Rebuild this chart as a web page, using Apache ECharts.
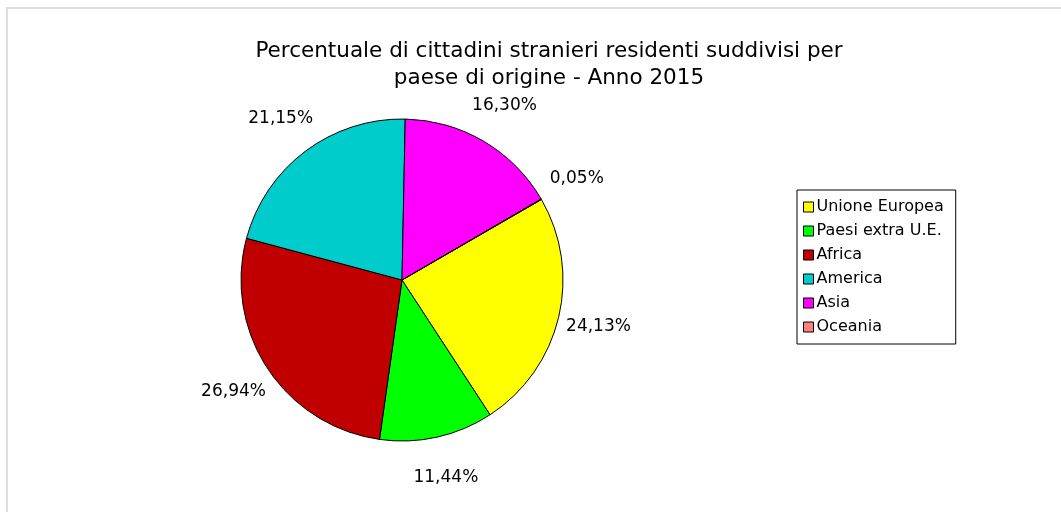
<!DOCTYPE html>
<html>
<head>
<meta charset="utf-8">
<script src="https://cdn.jsdelivr.net/npm/echarts@6/dist/echarts.min.js"></script>
<style>
  html, body { margin: 0; padding: 0; background: #fff; }
  #chart { width: 1061px; height: 512px; }
</style>
</head>
<body>
<div id="chart"></div>
<script>
const titleLines = ['Percentuale di cittadini stranieri residenti suddivisi per', 'paese di origine - Anno 2015'];
const origins = ['Unione Europea', 'Paesi extra U.E.', 'Africa', 'America', 'Asia', 'Oceania'];
const shares = [24.13, 11.44, 26.94, 21.15, 16.30, 0.05];
const sliceColors = ['#ffff00', '#00ff00', '#c00000', '#00cccc', '#ff00ff', '#ff8080'];

const font = 'DejaVu Sans';
const center = [402, 280];
const pieData = origins.map((name, i) => ({
    name: name,
    value: shares[i],
    itemStyle: {color: sliceColors[i]}
}));

const chart = echarts.init(document.getElementById('chart'));
chart.setOption({
    backgroundColor: '#ffffff',
    animation: false,
    title: {
        text: titleLines.join('\n'),
        left: 544,
        top: 33,
        textAlign: 'center',
        textStyle: {
            fontFamily: font,
            fontWeight: 'normal',
            fontSize: 21.5,
            lineHeight: 27,
            color: '#000'
        }
    },
    legend: {
        orient: 'vertical',
        left: 797,
        top: 190,
        padding: [9, 12, 9, 6],
        itemWidth: 10,
        itemHeight: 10,
        itemGap: 8,
        icon: 'rect',
        borderColor: '#000',
        borderWidth: 1,
        data: origins,
        itemStyle: {borderColor: '#000', borderWidth: 1},
        textStyle: {fontFamily: font, fontSize: 16, lineHeight: 14, color: '#000', padding: [0, 0, 0, -2]}
    },
    graphic: [{
        type: 'rect',
        shape: {x: 7, y: 8, width: 1200, height: 700},
        style: {fill: 'none', stroke: '#dddddd', lineWidth: 2},
        silent: true
    }],
    series: [{
        type: 'pie',
        center: center,
        radius: 161,
        startAngle: 30,
        clockwise: true,
        data: pieData,
        label: {show: false},
        labelLine: {show: false},
        itemStyle: {borderColor: '#000', borderWidth: 1},
        emphasis: {disabled: true}
    }, {
        // transparent ring only used to place the percentage labels around the pie
        type: 'pie',
        center: center,
        radius: [184, 214],
        startAngle: 30,
        clockwise: true,
        silent: true,
        data: pieData.map(d => ({name: d.name, value: d.value})),
        itemStyle: {color: 'rgba(0,0,0,0)'},
        label: {
            show: true,
            position: 'inside',
            formatter: p => p.value.toFixed(2).replace('.', ',') + '%',
            fontFamily: font,
            fontSize: 17,
            color: '#000'
        },
        labelLine: {show: false},
        emphasis: {disabled: true}
    }]
});
</script>
</body>
</html>
